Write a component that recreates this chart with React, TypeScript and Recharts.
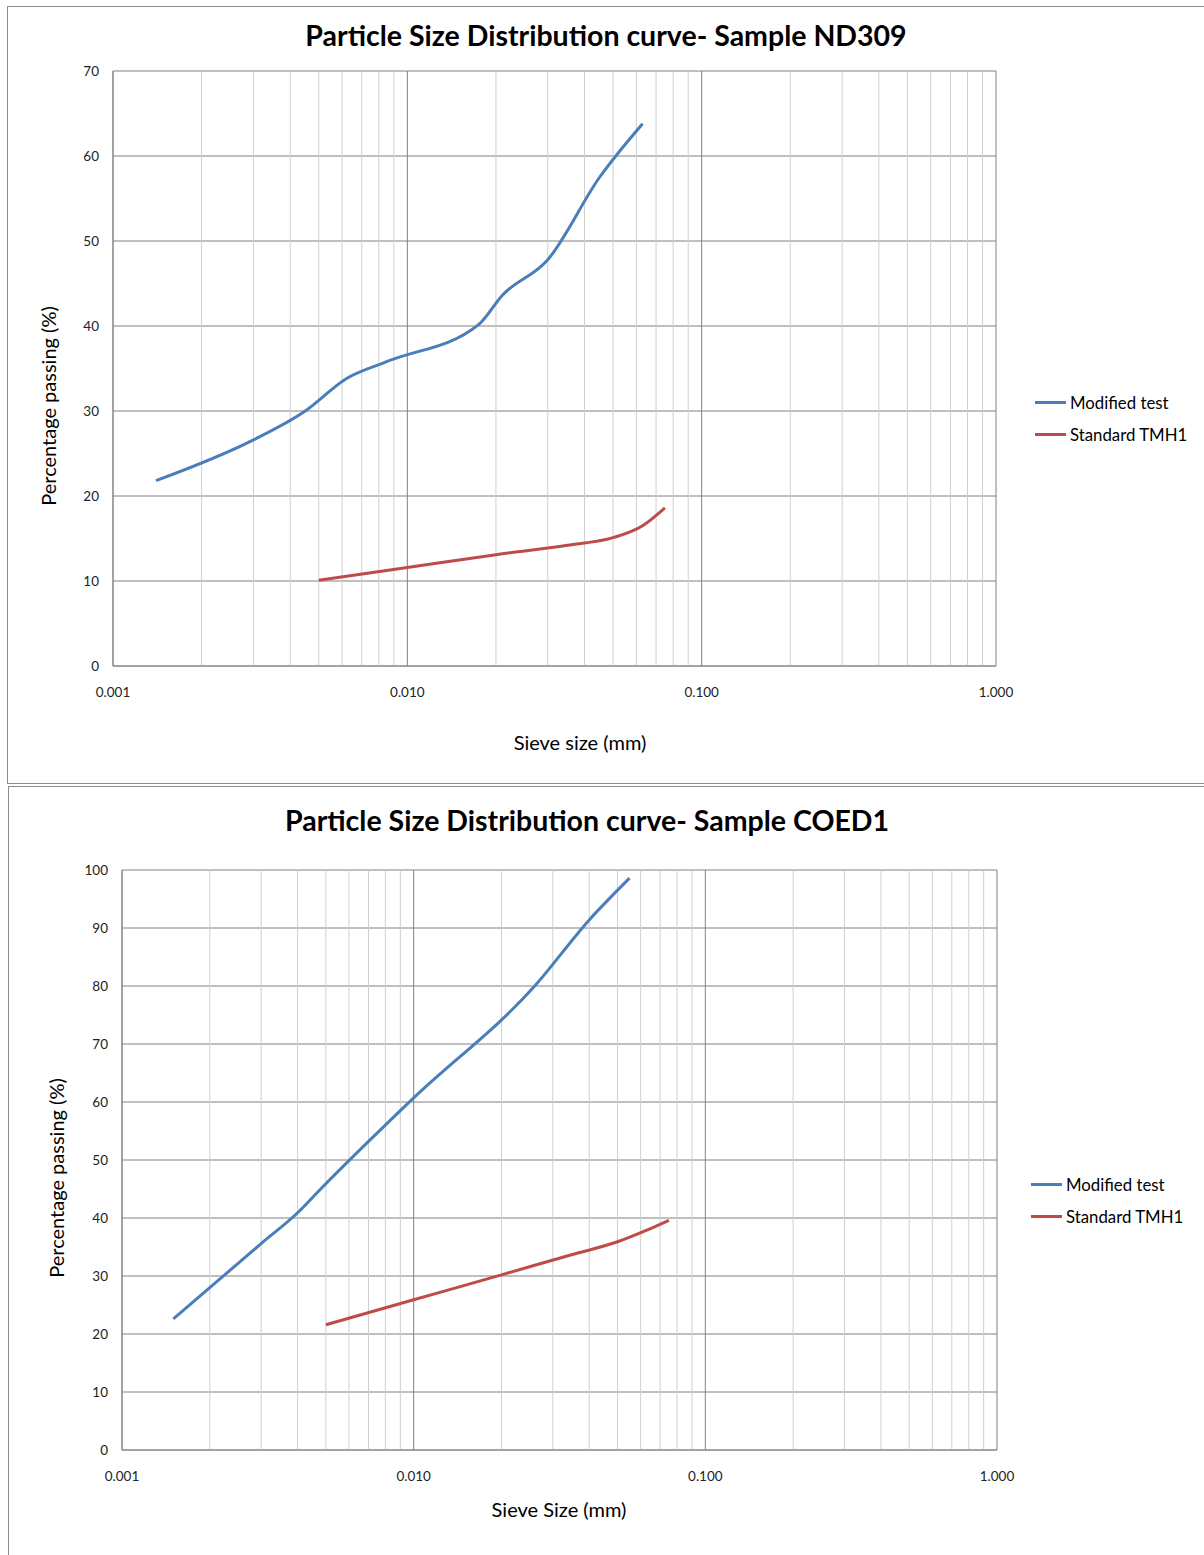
import { LineChart, Line, XAxis, YAxis, CartesianGrid, ReferenceLine } from 'recharts'

// sieve sizes (mm) and % passing
const nd309ModSize = [0.0014, 0.003, 0.0045, 0.0062, 0.0085, 0.0175, 0.021, 0.03, 0.045, 0.063]
const nd309ModPass = [21.8, 26.6, 30.0, 33.8, 35.8, 40.2, 43.6, 47.8, 57.5, 63.8]
const nd309StdSize = [0.005, 0.01, 0.02, 0.035, 0.05, 0.063, 0.075]
const nd309StdPass = [10.1, 11.6, 13.1, 14.2, 15.1, 16.5, 18.6]

const coedModSize = [0.0015, 0.003, 0.004, 0.0048, 0.01, 0.026, 0.04, 0.055]
const coedModPass = [22.6, 35.6, 40.9, 45.0, 60.7, 80.0, 91.4, 98.6]
const coedStdSize = [0.005, 0.01, 0.02, 0.035, 0.05, 0.063, 0.075]
const coedStdPass = [21.6, 25.9, 30.2, 33.7, 35.9, 37.9, 39.6]

const X_TICKS = [0.001, 0.01, 0.1, 1]
const MINOR_X = [
  0.002, 0.003, 0.004, 0.005, 0.006, 0.007, 0.008, 0.009,
  0.02, 0.03, 0.04, 0.05, 0.06, 0.07, 0.08, 0.09,
  0.2, 0.3, 0.4, 0.5, 0.6, 0.7, 0.8, 0.9,
]
const ND309_Y_TICKS = [0, 10, 20, 30, 40, 50, 60, 70]
const COED_Y_TICKS = [0, 10, 20, 30, 40, 50, 60, 70, 80, 90, 100]

const BLUE = '#4A7EBB'
const RED = '#BE4B48'
const FONT = 'Lato, "Open Sans", sans-serif'

const zip = (sizes: number[], pass: number[]) => sizes.map((size, i) => ({ size, pass: pass[i] }))

interface Props {
  top: number
  height: number
  title: string
  titleTop: number
  titleCenter: number
  xTitle: string
  xTitleTop: number
  xTitleCenter: number
  yTitleCenterX: number
  yTitleCenterY: number
  yTicks: number[]
  modified: { size: number; pass: number }[]
  standard: { size: number; pass: number }[]
  margin: { top: number; right: number; left: number; bottom: number }
  legendLeft: number
  legendTop: number
}

function PsdChart(p: Props) {
  const yMax = p.yTicks[p.yTicks.length - 1]
  return (
    <div style={{ position: 'absolute', left: 0, top: p.top, width: 1204, height: p.height }}>
      <div style={{ position: 'absolute', left: 0, top: 0 }}>
        <LineChart width={1204} height={p.height} margin={p.margin}>
          <CartesianGrid stroke="#808080" horizontal vertical />
          {MINOR_X.map((v) => (
            <ReferenceLine key={v} x={v} stroke="#CFCFCF" strokeWidth={1} />
          ))}
          <XAxis
            dataKey="size"
            type="number"
            scale="log"
            domain={[0.001, 1]}
            ticks={X_TICKS}
            allowDataOverflow
            tickFormatter={(v: number) => v.toFixed(3)}
            tick={{ fontSize: 13.5, fill: '#222', fontFamily: FONT }}
            tickLine={false}
            tickMargin={15}
            axisLine={{ stroke: '#868686' }}
            height={30}
          />
          <YAxis
            type="number"
            domain={[0, yMax]}
            ticks={p.yTicks}
            tick={{ fontSize: 13.5, fill: '#222', fontFamily: FONT }}
            tickLine={false}
            tickMargin={8}
            axisLine={{ stroke: '#868686' }}
            width={60}
          />
          <Line data={p.modified} dataKey="pass" name="Modified test" type="monotone" stroke={BLUE} strokeWidth={3} dot={false} isAnimationActive={false} />
          <Line data={p.standard} dataKey="pass" name="Standard TMH1" type="monotone" stroke={RED} strokeWidth={3} dot={false} isAnimationActive={false} />
        </LineChart>
      </div>
      <div style={{ position: 'absolute', left: p.titleCenter - 400, width: 800, top: p.titleTop, textAlign: 'center', fontFamily: FONT, fontWeight: 700, fontSize: 28.5, color: '#000', whiteSpace: 'nowrap' }}>
        {p.title}
      </div>
      <div style={{ position: 'absolute', left: p.xTitleCenter - 200, width: 400, top: p.xTitleTop, textAlign: 'center', fontFamily: FONT, fontSize: 20, color: '#000' }}>
        {p.xTitle}
      </div>
      <div style={{ position: 'absolute', left: p.yTitleCenterX - 150, top: p.yTitleCenterY - 12, width: 300, height: 24, lineHeight: '24px', textAlign: 'center', transform: 'rotate(-90deg)', fontFamily: FONT, fontSize: 20, color: '#000', whiteSpace: 'nowrap' }}>
        Percentage passing (%)
      </div>
      {[
        { name: 'Modified test', color: BLUE },
        { name: 'Standard TMH1', color: RED },
      ].map((item, i) => (
        <div key={item.name} style={{ position: 'absolute', left: p.legendLeft, top: p.legendTop + i * 32, height: 20, display: 'flex', alignItems: 'center', fontFamily: FONT, fontSize: 16.8, color: '#000', whiteSpace: 'nowrap' }}>
          <div style={{ width: 31, height: 3, background: item.color, marginRight: 4 }} />
          {item.name}
        </div>
      ))}
    </div>
  )
}

export default function App() {
  return (
    <div style={{ position: 'absolute', left: 0, top: 0, width: 1204, height: 1555, overflow: 'hidden', background: '#fff' }}>
      <div style={{ position: 'absolute', left: 7, top: 6, width: 1210, height: 776, border: '1px solid #8C8C8C' }} />
      <div style={{ position: 'absolute', left: 8, top: 786, width: 1210, height: 800, border: '1px solid #8C8C8C' }} />
      <PsdChart
        top={0}
        height={785}
        title="Particle Size Distribution curve- Sample ND309"
        titleTop={18}
        titleCenter={606}
        xTitle="Sieve size (mm)"
        xTitleTop={730}
        xTitleCenter={580}
        yTitleCenterX={48}
        yTitleCenterY={406}
        yTicks={ND309_Y_TICKS}
        modified={zip(nd309ModSize, nd309ModPass)}
        standard={zip(nd309StdSize, nd309StdPass)}
        margin={{ top: 71, right: 208, left: 53, bottom: 89 }}
        legendLeft={1035}
        legendTop={392}
      />
      <PsdChart
        top={785}
        height={770}
        title="Particle Size Distribution curve- Sample COED1"
        titleTop={18}
        titleCenter={587}
        xTitle="Sieve Size (mm)"
        xTitleTop={712}
        xTitleCenter={559}
        yTitleCenterX={56}
        yTitleCenterY={393}
        yTicks={COED_Y_TICKS}
        modified={zip(coedModSize, coedModPass)}
        standard={zip(coedStdSize, coedStdPass)}
        margin={{ top: 85, right: 207, left: 62, bottom: 75 }}
        legendLeft={1031}
        legendTop={389}
      />
    </div>
  )
}
